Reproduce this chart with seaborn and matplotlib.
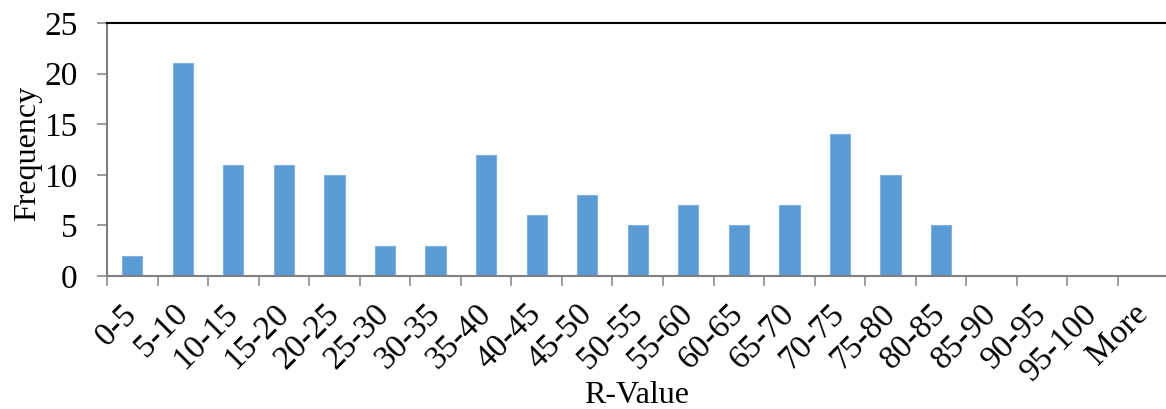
import matplotlib
matplotlib.use("Agg")
import matplotlib.pyplot as plt
import matplotlib.transforms as mtransforms
import seaborn as sns
import pandas as pd

categories = ["0-5", "5-10", "10-15", "15-20", "20-25", "25-30", "30-35", "35-40",
              "40-45", "45-50", "50-55", "55-60", "60-65", "65-70", "70-75", "75-80",
              "80-85", "85-90", "90-95", "95-100", "More"]
frequency = [2, 21, 11, 11, 10, 3, 3, 12, 6, 8, 5, 7, 5, 7, 14, 10, 5, 0, 0, 0, 0]

df = pd.DataFrame({"R-Value": categories, "Frequency": frequency})

sns.set_theme(style="white")
plt.rcParams["font.family"] = ["Liberation Serif", "DejaVu Serif"]
plt.rcParams["text.color"] = "black"
plt.rcParams["axes.labelcolor"] = "black"

fig = plt.figure(figsize=(11.66, 4.09), dpi=100)
ax = fig.add_axes([107/1166, (409-276)/409, 1 - 107/1166, (276-23)/409])

sns.barplot(data=df, x="R-Value", y="Frequency", color="#5B9BD5", width=0.4,
            saturation=1, edgecolor="#7FB0DE", linewidth=0.8, ax=ax)

ax.set_ylim(0, 25)
ax.set_yticks([0, 5, 10, 15, 20, 25])
ax.set_xlim(-0.5, 20.45)
ax.set_xticks([i - 0.5 for i in range(len(categories))], minor=False)
ax.set_xticklabels([])
ax.set_xticks(range(len(categories)), minor=True)
ax.set_xticklabels(categories, minor=True, rotation=45, ha="right", va="center",
                   rotation_mode="anchor", fontsize=24, color="black")
offset = mtransforms.ScaledTranslation(-4/100, 0, fig.dpi_scale_trans)
for lbl in ax.get_xticklabels(minor=True):
    lbl.set_transform(lbl.get_transform() + offset)
ax.tick_params(axis="x", which="minor", length=0, pad=24, bottom=True)
ax.tick_params(axis="x", which="major", length=7, width=1.2, color="#8C8C8C",
               direction="out", bottom=True)
ax.tick_params(axis="y", length=7, width=1.2, color="#8C8C8C", direction="out",
               labelsize=24, pad=14, left=True, labelcolor="black")

for s in ["left", "bottom"]:
    ax.spines[s].set_color("#7F7F7F")
    ax.spines[s].set_linewidth(1.5)
ax.spines["top"].set_color("black")
ax.spines["top"].set_linewidth(1.5)
ax.spines["right"].set_visible(False)

ax.set_xlabel("R-Value", fontsize=23, color="black")
ax.set_ylabel("Frequency", fontsize=23, color="black")
ax.xaxis.set_label_coords(0.5, (276 - 381) / 253)
ax.yaxis.set_label_coords((42 - 107) / 1059, 0.486)

fig.savefig("out.png", dpi=100)
